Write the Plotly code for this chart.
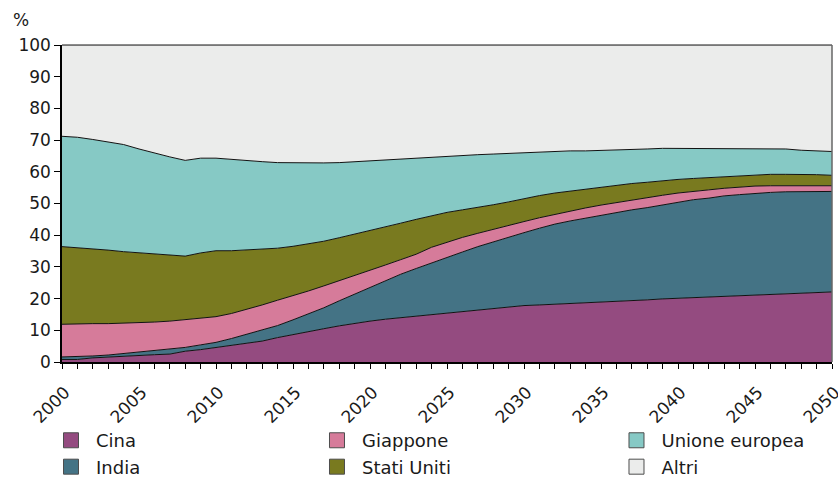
import plotly.graph_objects as go

years = list(range(2000, 2051))

cina = [0.8, 0.8, 1.3, 1.6, 1.9, 2.1, 2.3, 2.5, 3.4, 3.9,
        4.6, 5.4, 6.0, 6.6, 7.7, 8.7, 9.6, 10.5, 11.4, 12.2,
        12.9, 13.5, 14.0, 14.5, 14.9, 15.5, 16.0, 16.5, 17.0, 17.5,
        17.8, 18.0, 18.2, 18.4, 18.6, 18.8, 19.1, 19.3, 19.6, 19.9,
        20.1, 20.3, 20.5, 20.7, 20.9, 21.1, 21.3, 21.3, 21.6, 21.9,
        22.1]
india = [0.8, 0.9, 0.6, 0.6, 0.8, 1.1, 1.4, 1.6, 1.2, 1.5,
         1.6, 2.0, 2.8, 3.4, 3.8, 4.6, 5.5, 6.6, 7.9, 9.2,
         10.6, 12.1, 13.7, 15.0, 16.4, 17.4, 18.7, 19.9, 20.9, 22.0,
         23.0, 24.2, 25.3, 26.1, 26.8, 27.5, 28.1, 28.7, 29.1, 29.6,
         30.2, 30.9, 31.2, 31.7, 31.9, 32.1, 32.2, 32.4, 32.2, 31.9,
         31.7]
giappone = [10.3, 10.4, 10.2, 9.9, 9.5, 9.2, 8.9, 8.8, 8.7, 8.3,
            8.1, 7.9, 7.8, 8.0, 8.0, 7.6, 7.3, 6.9, 6.3, 5.9,
            5.4, 5.0, 4.6, 4.5, 4.9, 4.9, 4.6, 4.2, 4.0, 3.7,
            3.5, 3.3, 3.1, 3.1, 3.2, 3.2, 3.1, 3.1, 3.3, 3.1,
            3.0, 2.5, 2.6, 2.4, 2.4, 2.3, 2.1, 1.9, 1.8, 1.8,
            1.8]
stati_uniti = [24.5, 24.0, 23.6, 23.2, 22.6, 22.0, 21.4, 20.7, 20.1, 20.7,
               20.8, 19.8, 18.7, 17.6, 16.4, 15.6, 14.8, 14.1, 13.6, 13.0,
               12.5, 11.9, 11.5, 11.0, 10.0, 9.4, 8.7, 8.1, 7.7, 7.3,
               7.3, 7.0, 6.7, 6.3, 5.9, 5.7, 5.4, 5.2, 4.7, 4.6,
               4.3, 4.2, 3.9, 3.7, 3.5, 3.4, 3.6, 3.6, 3.6, 3.5,
               3.3]
unione_europea = [34.8, 34.8, 34.5, 34.2, 33.8, 32.8, 31.9, 31.1, 30.2, 29.9,
                  29.2, 28.8, 28.1, 27.6, 27.0, 26.3, 25.6, 24.7, 23.7, 22.9,
                  22.0, 21.2, 20.2, 19.2, 18.3, 17.6, 17.1, 16.7, 16.0, 15.3,
                  14.5, 13.8, 13.1, 12.7, 12.1, 11.5, 11.1, 10.7, 10.5, 10.2,
                  9.8, 9.5, 9.2, 8.9, 8.7, 8.5, 8.2, 8.0, 7.6, 7.5,
                  7.5]
altri = [28.8, 29.1, 29.8, 30.5, 31.4, 32.8, 34.1, 35.3, 36.4, 35.7,
         35.7, 36.1, 36.6, 36.8, 37.1, 37.2, 37.2, 37.2, 37.1, 36.8,
         36.6, 36.3, 36.0, 35.8, 35.5, 35.2, 34.9, 34.6, 34.4, 34.2,
         33.9, 33.7, 33.6, 33.4, 33.4, 33.3, 33.2, 33.0, 32.8, 32.6,
         32.6, 32.6, 32.6, 32.6, 32.6, 32.6, 32.6, 32.8, 33.2, 33.4,
         33.6]

series_names = ["Cina", "India", "Giappone", "Stati Uniti", "Unione europea", "Altri"]
series_values = [cina, india, giappone, stati_uniti, unione_europea, altri]
series_colors = ["#944B80", "#447385", "#D67B9A", "#797A1F", "#86C9C5", "#EBECEB"]
legend_ids = ["legend", "legend", "legend2", "legend2", "legend3", "legend3"]

y_ticks = list(range(0, 101, 10))
x_ticks = list(range(2000, 2051, 5))

FONT = "DejaVu Sans, Verdana, sans-serif"
TXT = "#1a1a1a"

fig = go.Figure()
for name, vals, col in zip(series_names, series_values, series_colors):
    fig.add_trace(go.Scatter(
        x=years, y=vals, name=name, stackgroup="one", mode="lines",
        fillcolor=col,
        line=dict(color="#666666" if name == "Altri" else "#111111", width=1),
        showlegend=False, hoverinfo="x+y+name",
    ))

for name, col, lg in zip(series_names, series_colors, legend_ids):
    fig.add_trace(go.Scatter(
        x=[None], y=[None], mode="markers", name=name, legend=lg,
        marker=dict(symbol="square", size=15, color=col,
                    line=dict(color="#4d4d4d", width=1)),
    ))

legend_common = dict(orientation="v", yanchor="top", xanchor="left",
                     xref="container", yref="container", traceorder="normal",
                     font=dict(family=FONT, size=18, color=TXT),
                     bgcolor="rgba(0,0,0,0)", itemwidth=40, tracegroupgap=0)

fig.update_layout(
    width=838, height=478,
    margin=dict(l=62, r=6, t=45, b=116, autoexpand=False),
    paper_bgcolor="white", plot_bgcolor="white",
    font=dict(family=FONT, size=17, color=TXT),
    showlegend=True,
    legend=dict(x=0.0549, y=0.117, **legend_common),
    legend2=dict(x=0.3723, y=0.117, **legend_common),
    legend3=dict(x=0.7297, y=0.117, **legend_common),
    xaxis=dict(range=[2000, 2050], tickvals=x_ticks, ticktext=[str(v) for v in x_ticks],
               tickangle=-45, ticks="outside", ticklen=5, tickcolor="black",
               showline=True, linecolor="black", linewidth=1.5,
               showgrid=False, zeroline=False, automargin=False,
               ticklabeloverflow="allow", ticklabelstandoff=7, ticklabelshift=3,
               tickfont=dict(family=FONT, size=17, color=TXT),
               minor=dict(dtick=1, tick0=2000, ticks="outside", ticklen=5,
                          tickcolor="black", showgrid=False)),
    yaxis=dict(range=[0, 100], tickvals=y_ticks, ticks="outside", ticklen=6,
               tickcolor="black", showline=True, linecolor="black", linewidth=1.5,
               showgrid=False, zeroline=False, automargin=False,
               tickfont=dict(family=FONT, size=17, color=TXT)),
    shapes=[
        dict(type="line", xref="paper", yref="paper", x0=0, x1=1, y0=1, y1=1,
             line=dict(color="#666666", width=1.5), layer="above"),
        dict(type="line", xref="paper", yref="paper", x0=1, x1=1, y0=0, y1=1,
             line=dict(color="#666666", width=1.5), layer="above"),
    ],
    annotations=[
        dict(text="%", xref="paper", yref="paper", x=-0.066, y=1.04,
             xanchor="left", yanchor="bottom", showarrow=False,
             font=dict(family=FONT, size=17, color=TXT)),
    ],
)

fig.write_html("out.html", config={"displayModeBar": False},
               post_script="document.body.style.margin='0';document.body.style.overflow='hidden';")
